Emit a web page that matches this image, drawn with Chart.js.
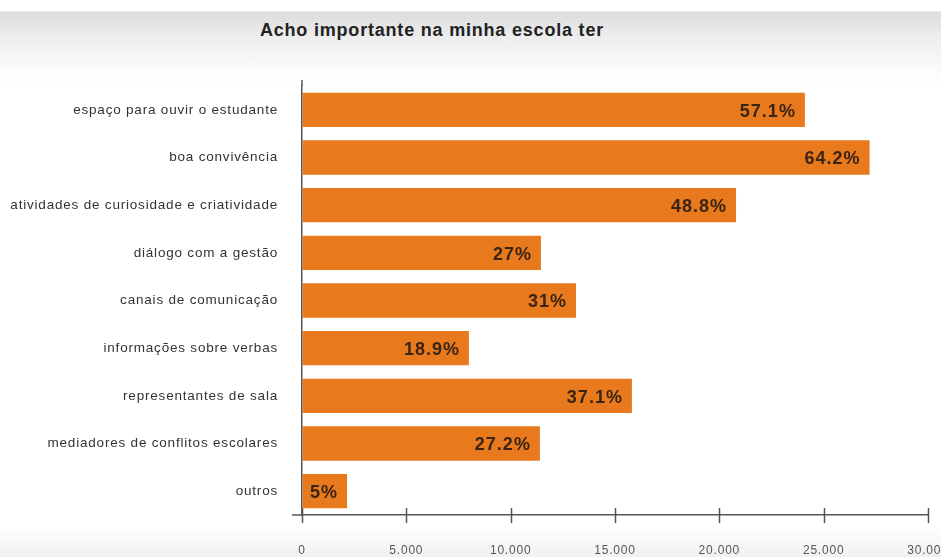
<!DOCTYPE html>
<html>
<head>
<meta charset="utf-8">
<script src="https://cdn.jsdelivr.net/npm/chart.js@4.4.1/dist/chart.umd.min.js"></script>
<style>
  html, body { margin: 0; padding: 0; }
  body {
    width: 941px; height: 557px; overflow: hidden; position: relative;
    font-family: "Liberation Sans", Arial, sans-serif;
    background: linear-gradient(to bottom, #ffffff 0px, #ffffff 11px, #dcdcdc 12px, #ececec 35px, #fbfbfb 70px, #ffffff 85px, #ffffff 525px, #f1f1f1 557px);
  }
  #title {
    position: absolute; left: 432px; top: 20px; transform: translateX(-50%);
    font-weight: bold; font-size: 18px; letter-spacing: 0.8px; line-height: 20px; color: #222; white-space: nowrap;
  }
  #c { position: absolute; left: 0; top: 0; }
</style>
</head>
<body>
<div id="title">Acho importante na minha escola ter</div>
<canvas id="c" width="941" height="557"></canvas>
<script>
const categories = [
  'espaço para ouvir o estudante',
  'boa convivência',
  'atividades de curiosidade e criatividade',
  'diálogo com a gestão',
  'canais de comunicação',
  'informações sobre verbas',
  'representantes de sala',
  'mediadores de conflitos escolares',
  'outros'
];
const values = [24100, 27200, 20800, 11450, 13130, 8000, 15810, 11400, 2160];
const pctLabels = ['57.1%', '64.2%', '48.8%', '27%', '31%', '18.9%', '37.1%', '27.2%', '5%'];
const xMin = 0, xMax = 30000, xStep = 5000;

const spacingPlugin = {
  id: 'spacing',
  beforeDraw(chart) { chart.ctx.letterSpacing = '0.8px'; }
};

const valueLabelPlugin = {
  id: 'valueLabels',
  afterDatasetsDraw(chart) {
    const ctx = chart.ctx;
    const meta = chart.getDatasetMeta(0);
    ctx.save();
    ctx.letterSpacing = '1px';
    ctx.font = 'bold 18px "Liberation Sans", Arial, sans-serif';
    ctx.fillStyle = '#3a2414';
    ctx.textAlign = 'right';
    ctx.textBaseline = 'middle';
    meta.data.forEach((bar, i) => {
      ctx.fillText(pctLabels[i], bar.x - 9, bar.y + 2);
    });
    ctx.restore();
  }
};

const tickMarkPlugin = {
  id: 'tickMarks',
  afterDraw(chart) {
    const xs = chart.scales.x;
    const ys = chart.scales.y;
    const ctx = chart.ctx;
    ctx.save();
    ctx.strokeStyle = '#555';
    ctx.lineWidth = 1.5;
    xs.ticks.forEach((t, i) => {
      const px = Math.round(xs.getPixelForTick(i)) + 0.5;
      ctx.beginPath();
      ctx.moveTo(px, xs.top - 7);
      ctx.lineTo(px, xs.top + 8);
      ctx.stroke();
    });
    ctx.beginPath();
    ctx.moveTo(ys.right, ys.top - 6);
    ctx.lineTo(ys.right, ys.top);
    ctx.moveTo(xs.left - 10, xs.top);
    ctx.lineTo(xs.left, xs.top);
    ctx.stroke();
    ctx.restore();
  }
};

new Chart(document.getElementById('c'), {
  type: 'bar',
  data: {
    labels: categories,
    datasets: [{
      data: values,
      backgroundColor: '#e8791d',
      borderWidth: 0,
      categoryPercentage: 1,
      barPercentage: 0.72
    }]
  },
  options: {
    indexAxis: 'y',
    responsive: false,
    animation: false,
    devicePixelRatio: 1,
    layout: { padding: { top: 86, left: 0, right: 13, bottom: 0 } },
    plugins: { legend: { display: false }, tooltip: { enabled: false }, title: { display: false } },
    scales: {
      x: {
        min: xMin, max: xMax,
        afterFit(s) { s.height = 42; s.paddingLeft = 0; s.paddingRight = 0; },
        ticks: {
          stepSize: xStep,
          padding: 28,
          color: '#555',
          font: { size: 12, family: '"Liberation Sans", Arial, sans-serif' },
          maxRotation: 0,
          callback: v => String(v).replace(/\B(?=(\d{3})+(?!\d))/g, '.')
        },
        grid: { display: true, drawOnChartArea: false, drawTicks: false },
        border: { display: true, color: '#555', width: 1.5 }
      },
      y: {
        afterFit(s) { s.width = 302; s.paddingTop = 0; s.paddingBottom = 0; },
        ticks: {
          padding: 24,
          color: '#333',
          font: { size: 13.5, family: '"Liberation Sans", Arial, sans-serif' }
        },
        grid: { display: true, drawOnChartArea: false, drawTicks: false },
        border: { display: true, color: '#555', width: 1.5 }
      }
    }
  },
  plugins: [spacingPlugin, valueLabelPlugin, tickMarkPlugin]
});
</script>
</body>
</html>
